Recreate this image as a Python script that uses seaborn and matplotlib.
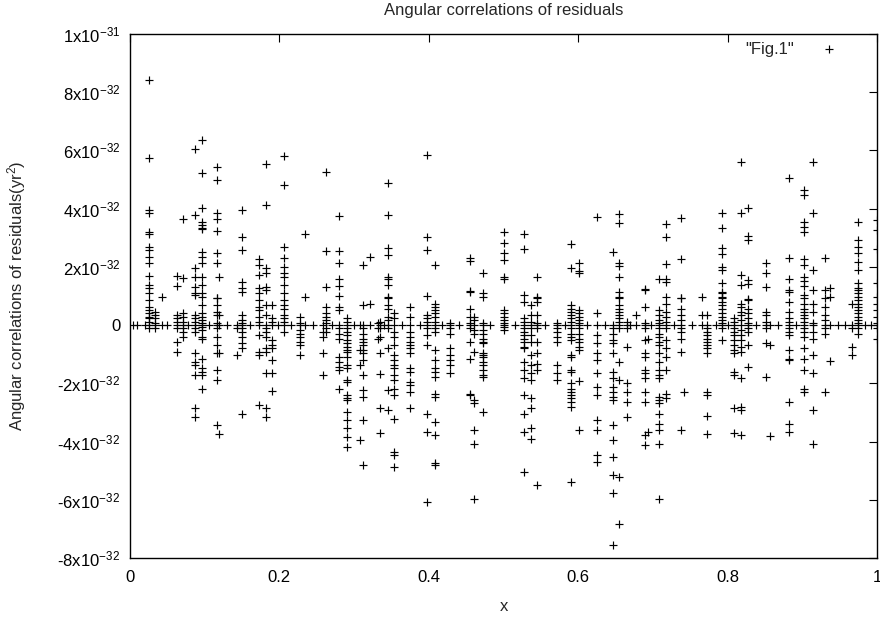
import matplotlib
matplotlib.use("Agg")
import matplotlib.pyplot as plt
import seaborn as sns
import pandas as pd

# ---- data (values in units of 1e-32) ----
left_x = [0.0089, 0.02, 0.0254, 0.0335, 0.0424, 0.0625, 0.0705, 0.087, 0.096, 0.116,
          0.1196, 0.143, 0.1495, 0.173, 0.182, 0.19, 0.206, 0.228, 0.234, 0.259,
          0.263, 0.28, 0.29, 0.308, 0.312, 0.321, 0.332]
left_y = [
    [0], [0],
    [8.42, 5.75, 3.95, 3.86, 3.2, 3.13, 2.67, 2.58, 2.35, 2.14, 1.68, 1.37, 1.29, 1.09, 0.86, 0.63, 0.52, 0.40, 0.29, 0.23, 0.11, 0, -0.11],
    [0.46, 0.34, 0.23, 0.06, 0, -0.11],
    [0.97, 0],
    [1.68, 1.34, 0.34, 0.23, 0.11, 0, -0.11, -0.57, -0.92],
    [3.63, 1.63, 0.4, 0.29, 0.11, 0, -0.11, -0.23, -0.4],
    [6.04, 3.78, 1.95, 1.66, 1.32, 1.09, 1.03, 0.34, 0.23, 0.11, 0, -0.11, -0.23, -0.97, -1.26, -1.37, -1.72, -2.86, -3.15],
    [6.36, 5.23, 4.03, 3.55, 3.43, 3.35, 3.29, 2.52, 2.35, 2.12, 1.66, 1.37, 1.09, 0.97, 0.69, 0.4, 0.29, 0.17, 0.06, 0, -0.06, -0.17, -0.4, -0.46, -1.15, -1.49, -1.6, -1.72, -2.2],
    [5.44, 4.98, 3.86, 3.63, 3.24, 2.48, 2.14, 0.93, 0.92, 0.69, 0.46, 0.34, 0.06, 0, -0.11, -0.4, -0.69, -0.97, -1.55, -1.89, -3.44],
    [1.64, 0.34, 0, -0.95, -3.75],
    [0, -0.11, -1.03],
    [3.97, 3.03, 2.58, 1.49, 1.26, 1.15, 0.34, 0.17, 0.06, 0, -0.11, -0.23, -0.4, -0.63, -0.8, -3.04],
    [2.26, 2.06, 1.72, 1.26, 1.09, 0.86, 0.63, 0.52, 0.29, 0.11, 0, -0.34, -0.92, -1.03, -2.75],
    [5.55, 4.12, 1.95, 1.78, 1.32, 1.2, 0.69, 0.34, 0, -0.11, -0.23, -0.4, -0.8, -0.92, -1.66, -2.86, -3.15],
    [0.69, 0.23, 0.11, 0, -0.52, -0.69, -0.8, -1.2, -1.66, -2.27],
    [5.81, 4.81, 2.69, 2.29, 2.0, 1.78, 1.66, 1.37, 1.09, 0.86, 0.69, 0.57, 0.34, 0.23, 0.11, 0, -0.23],
    [0.29, 0.06, 0, -0.17, -0.29, -0.4, -0.57, -0.69, -1.03],
    [3.12, 0.97, 0],
    [0, -0.23, -0.4, -0.97, -1.72],
    [5.27, 2.55, 1.32, 0.63, 0.4, 0.29, 0.17, 0.06, -0.11, -0.23],
    [3.75, 2.55, 2.14, 1.57, 1.34, 1.0, 0.63, 0.52, 0, -0.11, -0.29, -0.46, -1.09, -1.26, -1.43, -1.55, -2.2],
    [0.23, 0.11, 0, -0.11, -0.23, -0.34, -0.52, -0.63, -0.74, -0.86, -0.92, -1.09, -1.37, -1.49, -1.89, -1.95, -2.41, -2.52, -2.58, -2.98, -3.26, -3.55, -3.84, -4.18],
    [0, -0.86, -1.37, -3.93],
    [2.06, 0.69, 0, -0.11, -0.29, -0.46, -0.57, -0.69, -0.86, -0.97, -1.2, -1.72, -2.23, -2.46, -3.26, -4.81],
    [2.35, 0.74, 0],
    [0.06, -0.11, -0.46],
]

mid_x = [0.335, 0.346, 0.354, 0.375, 0.398, 0.408, 0.429, 0.455, 0.46, 0.472, 0.5,
         0.528, 0.537, 0.545, 0.571, 0.591, 0.601, 0.625, 0.647, 0.655, 0.665]
mid_y = [
    [0.11, 0, -0.11, -0.4, -0.97, -1.68, -2.86, -3.72],
    [4.87, 3.78, 2.64, 2.41, 1.66, 1.57, 1.37, 0.93, 0.97, 0.69, 0.57, 0.29, 0.17, 0, -0.11, -0.8, -2.23, -2.92],
    [0.4, 0.23, 0, -0.23, -0.4, -0.69, -1.03, -1.2, -1.37, -1.49, -1.72, -1.89, -2.18, -2.41, -3.21, -4.35, -4.47, -4.87],
    [0.63, 0.29, 0, -0.23, -0.4, -0.57, -0.69, -0.8, -0.97, -1.49, -1.6, -1.95, -2.06, -2.29, -2.86],
    [5.86, 3.03, 2.58, 1.0, 0.34, 0.23, 0.11, 0, -0.11, -0.34, -0.69, -3.04, -3.67, -6.07],
    [2.06, 0.74, 0.63, 0.52, 0.4, 0.29, 0.11, 0, -0.11, -0.23, -0.86, -1.2, -1.49, -1.6, -1.77, -2.35, -2.46, -3.32, -3.78, -4.75, -4.81],
    [0.06, 0, -0.11, -0.29, -0.8, -1.03, -1.2, -1.37, -1.66],
    [2.31, 2.21, 1.18, 1.15, 0.57, 0.29, 0.06, 0, -0.11, -0.57, -1.15, -2.35, -2.41],
    [0.29, 0.17, 0, -0.17, -0.29, -0.92, -2.58, -2.69, -3.61, -4.09, -5.99],
    [1.8, 1.09, 0.97, 0.06, 0, -0.17, -0.29, -0.46, -0.57, -0.63, -0.97, -1.03, -1.09, -1.26, -1.37, -1.55, -1.72, -1.77, -2.98],
    [3.19, 2.81, 2.46, 2.23, 1.66, 1.6, 0.52, 0.4, 0.29, 0.17, 0.06, 0, -0.06, -0.17],
    [3.12, 2.61, 1.03, 0.8, 0.23, 0.11, 0, -0.11, -0.23, -0.34, -0.46, -0.57, -0.74, -0.8, -1.26, -1.55, -1.83, -2.41, -3.04, -3.67, -5.04],
    [0.69, 0.34, 0.11, 0, -0.11, -0.34, -0.57, -1.03, -1.37, -1.66, -1.89, -2.52, -2.86, -3.55, -3.9],
    [1.64, 0.94, 0.97, 0.8, 0.34, 0.06, 0, -0.11, -0.57, -0.97, -1.32, -1.55, -5.5],
    [0.06, 0, -0.11, -0.23, -0.4, -0.57, -1.37, -1.66, -1.89],
    [2.78, 1.95, 0.69, 0.57, 0.46, 0.34, 0.23, 0.11, 0, -0.11, -0.29, -0.4, -0.52, -1.03, -1.09, -1.55, -1.6, -2.0, -2.18, -2.29, -2.41, -2.52, -2.63, -2.81, -5.38],
    [2.12, 1.87, 1.78, 0.52, 0.4, 0.29, 0.17, 0.06, 0, -0.11, -0.29, -0.46, -0.57, -0.74, -0.86, -1.91, -3.61],
    [3.7, 0.4, 0, -0.34, -0.63, -0.97, -1.2, -1.66, -2.12, -2.41, -3.27, -3.61, -4.47, -4.7],
    [2.5, 0, -0.11, -0.29, -0.52, -0.63, -0.97, -1.6, -1.83, -2.12, -2.29, -2.46, -2.58, -3.44, -3.93, -4.52, -5.15, -5.76, -7.56],
    [3.81, 3.52, 2.14, 2.03, 1.66, 1.15, 0.97, 0.92, 0.69, 0.57, 0.46, 0.34, 0.23, 0.11, 0, -0.11, -1.26, -1.87, -5.21, -6.82],
    [0.11, 0, -0.11, -0.74, -2.0, -2.29, -2.63, -3.15],
]

right_x = [0.678, 0.689, 0.693, 0.708, 0.718, 0.737, 0.741, 0.766, 0.772, 0.793, 0.809,
           0.818, 0.827, 0.851, 0.857, 0.882, 0.902, 0.914, 0.93, 0.937, 0.957, 0.967,
           0.975, 0.992, 0.9995]
right_y = [
    [0.34, 0],
    [1.23, 1.2, 0.63, 0.06, 0, -0.11, -0.52, -0.97, -1.09, -1.55, -1.66, -1.83, -2.29, -2.63, -3.78, -4.12],
    [-0.46, -3.67],
    [1.57, 0.52, 0.34, 0.17, 0.06, 0, -0.11, -0.29, -0.4, -0.57, -0.69, -0.97, -1.26, -1.55, -1.72, -1.83, -2.46, -2.58, -2.69, -3.04, -3.38, -3.61, -4.09, -5.99],
    [3.49, 3.03, 2.09, 1.57, 1.49, 0.97, 0.74, 0.46, 0.29, 0.11, 0, -0.11, -0.52, -0.8, -1.09, -1.55, -2.35, -2.52],
    [3.67, 2.26, 0.94, 0.92, 0.57, 0.34, 0.17, 0, -0.11, -0.23, -0.46, -0.92, -3.61],
    [-2.29],
    [0.97, 0.34, 0],
    [0.34, 0, -0.11, -0.23, -0.34, -0.46, -0.57, -0.69, -0.8, -0.97, -2.29, -2.41, -3.13, -3.75],
    [3.86, 3.34, 2.64, 2.44, 2.0, 1.91, 1.43, 1.15, 0.97, 1.09, 0.92, 0.8, 0.69, 0.57, 0.4, 0.29, 0.17, 0.06, 0, -0.11, -0.52],
    [0.23, 0.11, 0, -0.11, -0.23, -0.34, -0.52, -0.69, -0.86, -0.97, -1.6, -1.72, -2.86, -3.72],
    [5.61, 3.84, 1.72, 1.37, 0.74, 0.63, 0.46, 0.34, 0.17, 0, -0.17, -0.34, -0.52, -0.74, -0.92, -1.83, -2.81, -2.92, -3.78],
    [4.04, 3.06, 2.94, 1.55, 1.41, 0.88, 0.86, 0.57, 0.4, 0.23, 0.06, 0, -0.11, -0.23, -0.69, -1.43],
    [2.14, 1.8, 1.32, 0.46, 0.34, 0.11, 0, -0.11, -0.63, -1.78],
    [0, -0.69, -3.81],
    [5.06, 2.29, 1.6, 1.2, 1.15, 0.8, 0.46, 0.23, 0.11, 0, -0.11, -0.23, -0.34, -0.86, -1.15, -1.2, -2.63, -3.38, -3.67],
    [4.64, 4.47, 3.55, 3.38, 3.21, 2.26, 2.06, 1.66, 1.52, 1.34, 1.03, 0.92, 0.74, 0.57, 0.46, 0.34, 0.23, 0.11, 0, -0.11, -0.23, -0.4, -0.8, -1.15, -1.55, -2.18, -2.29],
    [5.59, 3.84, 1.91, 1.2, 0.74, 0.46, 0.06, 0, -0.23, -0.46, -1.03, -1.66, -2.9, -4.07],
    [2.29, 1.2, 0.92, 0.63, 0.34, 0.17, 0, -0.11, -0.29, -2.29],
    [1.26, 0.97, 0, -1.24],
    [0],
    [0.74, 0, -0.11, -0.74, -1.03],
    [3.55, 2.92, 2.69, 2.46, 2.18, 1.89, 1.43, 1.26, 1.09, 1.2, 0.97, 0.86, 0.74, 0.63, 0.52, 0.4, 0.29, 0.17, 0.06, 0, -0.11, -0.29],
    [0],
    [3.61, 3.26, 2.6, 1.43, 0.97, 0.74, 0.52, 0.29, 0.06, 0, -0.11, -0.46],
]

zero_x = [0.004, 0.05, 0.078, 0.106, 0.13, 0.16, 0.198, 0.216, 0.245, 0.27, 0.3,
          0.34, 0.364, 0.388, 0.418, 0.44, 0.482, 0.515, 0.555, 0.582, 0.612, 0.636,
          0.67, 0.698, 0.728, 0.752, 0.785, 0.8, 0.838, 0.868, 0.892, 0.948, 0.984]

y_ticks = [-8, -6, -4, -2, 0, 2, 4, 6, 8, 10]
y_tick_labels = [r"-8x10$^{-32}$", r"-6x10$^{-32}$", r"-4x10$^{-32}$", r"-2x10$^{-32}$", "0",
                 r"2x10$^{-32}$", r"4x10$^{-32}$", r"6x10$^{-32}$", r"8x10$^{-32}$", r"1x10$^{-31}$"]
x_ticks = [0, 0.2, 0.4, 0.6, 0.8, 1]
x_tick_labels = ["0", "0.2", "0.4", "0.6", "0.8", "1"]
UNIT = 1e-32

# ---- assemble ----
xs, ys = [], []
for gx, gy in ((left_x, left_y), (mid_x, mid_y), (right_x, right_y)):
    for cx, vals in zip(gx, gy):
        for v in vals:
            xs.append(cx)
            ys.append(v * UNIT)
for zx in zero_x:
    xs.append(zx)
    ys.append(0.0)
df = pd.DataFrame({"x": xs, "y": ys})

sns.set_theme(style="white")
fam = "Liberation Sans"
plt.rcParams["font.family"] = [fam, "DejaVu Sans"]
plt.rcParams["mathtext.fontset"] = "custom"
plt.rcParams["mathtext.rm"] = fam
plt.rcParams["mathtext.it"] = fam

FS = 12
fig = plt.figure(figsize=(8.8, 6.2), dpi=100)
ax = fig.add_axes([130 / 880, 1 - 558 / 620, 747 / 880, 524 / 620])

sns.scatterplot(data=df, x="x", y="y", marker="+", color="black", s=36,
                linewidth=0.85, ax=ax, label='"Fig.1"', legend=True)

ax.set_xlim(0, 1)
ax.set_ylim(-8 * UNIT, 10 * UNIT)
ax.set_xticks(x_ticks)
ax.set_xticklabels(x_tick_labels)
ax.set_yticks([t * UNIT for t in y_ticks])
ax.set_yticklabels(y_tick_labels)
ax.tick_params(direction="in", length=6, width=0.8, top=True, right=True,
               labelsize=FS, colors="black")
ax.tick_params(axis="x", pad=9)
ax.tick_params(axis="y", pad=7)
for sp in ax.spines.values():
    sp.set_color("black")
    sp.set_linewidth(1.0)

ax.set_xlabel("x", fontsize=FS, labelpad=10)
ax.set_ylabel(r"Angular correlations of residuals(yr$^2$)", fontsize=FS)
ax.yaxis.set_label_coords((28 - 130) / 747, 0.5)
ax.set_title("Angular correlations of residuals", fontsize=FS, pad=14)

leg = ax.legend(loc="upper right", bbox_to_anchor=(0.9525, 0.985), frameon=False,
                markerfirst=False, fontsize=FS, handletextpad=1.35,
                borderaxespad=0.0, borderpad=0.0, handlelength=1.5)

fig.savefig("out.png", dpi=100)
